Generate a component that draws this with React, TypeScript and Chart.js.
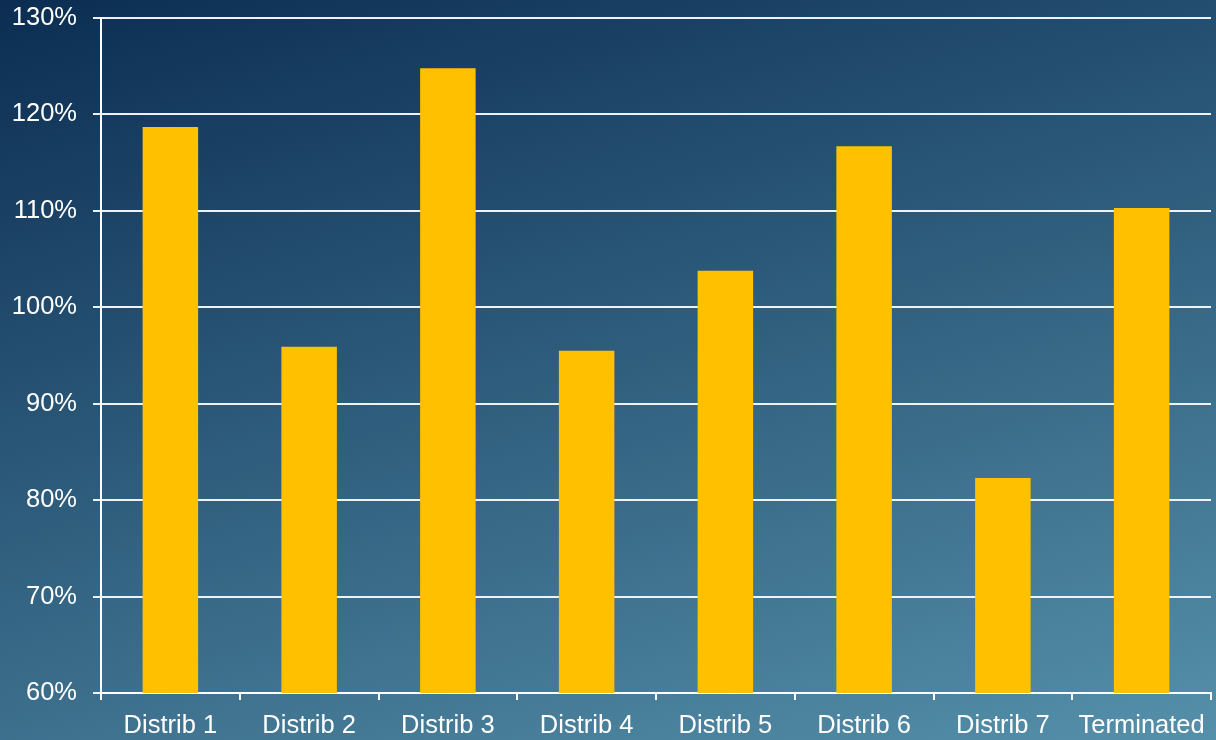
import React, { useEffect, useRef } from "react";
import { Chart, registerables } from "chart.js";

Chart.register(...registerables);

const categories = ["Distrib 1", "Distrib 2", "Distrib 3", "Distrib 4", "Distrib 5", "Distrib 6", "Distrib 7", "Terminated"];
const values = [118.7, 95.9, 124.8, 95.5, 103.8, 116.7, 82.3, 110.3];
const yMin = 60;
const yMax = 130;
const yStep = 10;

const bgPlugin = {
  id: "bgGradient",
  beforeDraw(chart: any) {
    const { ctx, width, height } = chart;
    const g = ctx.createLinearGradient(0, 0, 290, 1006);
    g.addColorStop(0, "#0b2d52");
    g.addColorStop(1, "#5590aa");
    ctx.save();
    ctx.fillStyle = g;
    ctx.fillRect(0, 0, width, height);
    ctx.restore();
  },
};

export default function App() {
  const ref = useRef<HTMLCanvasElement | null>(null);
  useEffect(() => {
    if (!ref.current) return;
    const font = { family: "'Liberation Sans', Arial, sans-serif", size: 25.5 };
    const chart = new Chart(ref.current, {
      type: "bar",
      data: {
        labels: categories,
        datasets: [
          {
            data: values,
            backgroundColor: "#FFC000",
            borderWidth: 0,
            barPercentage: 0.4,
            categoryPercentage: 1,
          },
        ],
      },
      options: {
        responsive: false,
        animation: false,
        layout: { padding: { top: 18, right: 5, left: 0, bottom: 0 } },
        plugins: { legend: { display: false }, tooltip: { enabled: false } },
        scales: {
          x: {
            offset: true,
            grid: {
              offset: true,
              drawOnChartArea: false,
              drawTicks: true,
              tickLength: 7,
              color: "#ffffff",
              lineWidth: 2,
            },
            border: { display: true, color: "#ffffff", width: 2 },
            ticks: { color: "#ffffff", font, padding: 11, maxRotation: 0, autoSkip: false },
            afterFit(scale: any) {
              scale.height = 47;
              scale.paddingLeft = 0;
              scale.paddingRight = 0;
            },
          },
          y: {
            min: yMin,
            max: yMax,
            grid: {
              color: "#eef2f5",
              lineWidth: 2,
              tickLength: 8,
              drawTicks: true,
            },
            border: { display: true, color: "#ffffff", width: 2 },
            ticks: {
              stepSize: yStep,
              color: "#ffffff",
              font,
              padding: 16,
              callback: (v: any) => v + "%",
            },
            afterFit(scale: any) {
              scale.width = 101;
              scale.paddingTop = 0;
              scale.paddingBottom = 0;
            },
          },
        },
      },
      plugins: [bgPlugin],
    });
    return () => chart.destroy();
  }, []);
  return (
    <div style={{ position: "fixed", left: 0, top: 0, width: 1216, height: 740 }}>
      <canvas ref={ref} width={1216} height={740} style={{ display: "block" }} />
    </div>
  );
}
